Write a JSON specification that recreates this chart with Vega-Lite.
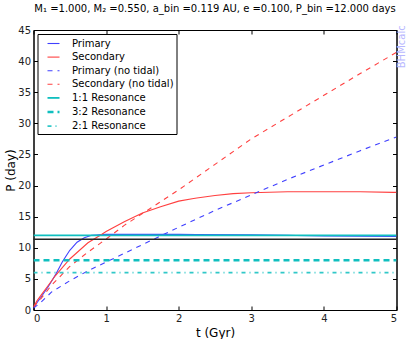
{
  "$schema": "https://vega.github.io/schema/vega-lite/v6.json",
  "width": 363,
  "height": 280,
  "autosize": {"type": "none"},
  "padding": {"left": 33.5, "top": 30, "right": 10.5, "bottom": 29},
  "background": "white",
  "title": {"text": "M₁ =1.000, M₂ =0.550, a_bin =0.119 AU, e =0.100, P_bin =12.000 days", "fontSize": 10, "font": "DejaVu Sans", "fontWeight": "normal", "color": "black", "offset": 11, "anchor": "middle"},
  "config": {
    "view": {"stroke": "black", "strokeWidth": 1},
    "font": "DejaVu Sans",
    "axis": {"labelFont": "DejaVu Sans", "labelFontSize": 10, "labelColor": "#222", "titleFont": "DejaVu Sans", "titleFontSize": 12, "titleFontWeight": "normal", "titleColor": "black", "domainColor": "black", "tickColor": "black", "grid": false, "tickSize": -4, "labelPadding": 7}
  },
  "datasets": {
    "curves": [
      {"series": "Primary", "t": 0, "P": 0.3},
      {"series": "Primary", "t": 0.05, "P": 1.2},
      {"series": "Primary", "t": 0.1, "P": 2.0},
      {"series": "Primary", "t": 0.2, "P": 3.7},
      {"series": "Primary", "t": 0.3, "P": 5.6},
      {"series": "Primary", "t": 0.4, "P": 7.8},
      {"series": "Primary", "t": 0.5, "P": 9.6},
      {"series": "Primary", "t": 0.6, "P": 10.9},
      {"series": "Primary", "t": 0.7, "P": 11.6},
      {"series": "Primary", "t": 0.8, "P": 12.0},
      {"series": "Primary", "t": 0.9, "P": 12.1},
      {"series": "Primary", "t": 1.0, "P": 12.15},
      {"series": "Primary", "t": 2.0, "P": 12.15},
      {"series": "Primary", "t": 3.0, "P": 12.1},
      {"series": "Primary", "t": 3.5, "P": 12.0},
      {"series": "Primary", "t": 4.0, "P": 11.9},
      {"series": "Primary", "t": 5.0, "P": 11.8},
      {"series": "Secondary", "t": 0, "P": 0.5},
      {"series": "Secondary", "t": 0.05, "P": 1.5},
      {"series": "Secondary", "t": 0.1, "P": 2.3},
      {"series": "Secondary", "t": 0.2, "P": 3.9},
      {"series": "Secondary", "t": 0.3, "P": 5.5},
      {"series": "Secondary", "t": 0.5, "P": 8.2},
      {"series": "Secondary", "t": 0.75, "P": 10.8},
      {"series": "Secondary", "t": 1.0, "P": 12.6},
      {"series": "Secondary", "t": 1.25, "P": 14.2},
      {"series": "Secondary", "t": 1.5, "P": 15.6},
      {"series": "Secondary", "t": 1.75, "P": 16.6},
      {"series": "Secondary", "t": 2.0, "P": 17.5},
      {"series": "Secondary", "t": 2.25, "P": 18.0},
      {"series": "Secondary", "t": 2.5, "P": 18.4},
      {"series": "Secondary", "t": 2.75, "P": 18.7},
      {"series": "Secondary", "t": 3.0, "P": 18.85},
      {"series": "Secondary", "t": 3.5, "P": 19.0},
      {"series": "Secondary", "t": 4.0, "P": 19.0},
      {"series": "Secondary", "t": 4.5, "P": 19.0},
      {"series": "Secondary", "t": 5.0, "P": 18.9},
      {"series": "Primary (no tidal)", "t": 0, "P": 0.3},
      {"series": "Primary (no tidal)", "t": 0.1, "P": 1.2},
      {"series": "Primary (no tidal)", "t": 0.25, "P": 2.9},
      {"series": "Primary (no tidal)", "t": 0.5, "P": 4.7},
      {"series": "Primary (no tidal)", "t": 0.75, "P": 6.3},
      {"series": "Primary (no tidal)", "t": 1.0, "P": 7.7},
      {"series": "Primary (no tidal)", "t": 1.25, "P": 9.1},
      {"series": "Primary (no tidal)", "t": 1.5, "P": 10.5},
      {"series": "Primary (no tidal)", "t": 1.75, "P": 11.9},
      {"series": "Primary (no tidal)", "t": 2.0, "P": 13.3},
      {"series": "Primary (no tidal)", "t": 2.5, "P": 16.0},
      {"series": "Primary (no tidal)", "t": 3.0, "P": 18.5},
      {"series": "Primary (no tidal)", "t": 3.5, "P": 21.0},
      {"series": "Primary (no tidal)", "t": 4.0, "P": 23.3},
      {"series": "Primary (no tidal)", "t": 4.5, "P": 25.6},
      {"series": "Primary (no tidal)", "t": 5.0, "P": 27.8},
      {"series": "Secondary (no tidal)", "t": 0, "P": 0.5},
      {"series": "Secondary (no tidal)", "t": 0.1, "P": 1.8},
      {"series": "Secondary (no tidal)", "t": 0.25, "P": 4.0},
      {"series": "Secondary (no tidal)", "t": 0.5, "P": 7.0},
      {"series": "Secondary (no tidal)", "t": 0.75, "P": 9.3},
      {"series": "Secondary (no tidal)", "t": 1.0, "P": 11.4},
      {"series": "Secondary (no tidal)", "t": 1.25, "P": 13.6},
      {"series": "Secondary (no tidal)", "t": 1.5, "P": 15.5},
      {"series": "Secondary (no tidal)", "t": 1.75, "P": 17.4},
      {"series": "Secondary (no tidal)", "t": 2.0, "P": 19.3},
      {"series": "Secondary (no tidal)", "t": 2.5, "P": 23.4},
      {"series": "Secondary (no tidal)", "t": 3.0, "P": 27.5},
      {"series": "Secondary (no tidal)", "t": 3.5, "P": 31.0},
      {"series": "Secondary (no tidal)", "t": 4.0, "P": 34.5},
      {"series": "Secondary (no tidal)", "t": 4.5, "P": 38.0},
      {"series": "Secondary (no tidal)", "t": 5.0, "P": 41.4},
      {"series": "1:1 Resonance", "t": 0, "P": 12.0},
      {"series": "1:1 Resonance", "t": 5, "P": 12.0},
      {"series": "3:2 Resonance", "t": 0, "P": 8.0},
      {"series": "3:2 Resonance", "t": 5, "P": 8.0},
      {"series": "2:1 Resonance", "t": 0, "P": 6.0},
      {"series": "2:1 Resonance", "t": 5, "P": 6.0}
    ],
    "binary": [
      {"t": 0, "P": 11.36},
      {"t": 5, "P": 11.36}
    ],
    "mark": [
      {"label": "BHMcalc", "t": 5, "P": 42.3}
    ]
  },
  "layer": [
    {
      "data": {"name": "curves"},
      "mark": {"type": "line", "clip": true},
      "encoding": {
        "x": {"field": "t", "type": "quantitative", "scale": {"domain": [0, 5], "nice": false}, "axis": {"title": "t (Gyr)", "values": [0, 1, 2, 3, 4, 5], "format": "d", "titlePadding": 4}},
        "y": {"field": "P", "type": "quantitative", "scale": {"domain": [0, 45], "nice": false}, "axis": {"title": "P (day)", "values": [0, 5, 10, 15, 20, 25, 30, 35, 40, 45], "format": "d", "titlePadding": 0}},
        "color": {"field": "series", "type": "nominal", "sort": null,
          "scale": {"domain": ["Primary", "Secondary", "Primary (no tidal)", "Secondary (no tidal)", "1:1 Resonance", "3:2 Resonance", "2:1 Resonance"],
                    "range": ["#4040ff", "#ff4040", "#4040ff", "#ff4040", "#10bfbf", "#10bfbf", "#30c8c8"]},
          "legend": {"title": null, "orient": "top-left", "offset": 4, "strokeColor": "black", "fillColor": "white", "padding": 2.5, "labelFontSize": 10, "labelFont": "DejaVu Sans", "labelColor": "black", "rowPadding": 1.6, "symbolSize": 144, "symbolType": "stroke", "symbolOffset": 6, "labelOffset": 11, "cornerRadius": 0}},
        "strokeDash": {"field": "series", "type": "nominal", "sort": null,
          "scale": {"domain": ["Primary", "Secondary", "Primary (no tidal)", "Secondary (no tidal)", "1:1 Resonance", "3:2 Resonance", "2:1 Resonance"],
                    "range": [[100, 0], [100, 0], [5, 5], [5, 5], [100, 0], [6, 4], [4, 4, 1, 4]]},
          "legend": {"title": null}},
        "strokeWidth": {"field": "series", "type": "ordinal", "sort": null,
          "scale": {"type": "ordinal", "domain": ["Primary", "Secondary", "Primary (no tidal)", "Secondary (no tidal)", "1:1 Resonance", "3:2 Resonance", "2:1 Resonance"],
                    "range": [1.1, 1.1, 1.1, 1.1, 1.8, 2.6, 1.6]},
          "legend": {"title": null}}
      }
    },
    {
      "data": {"name": "binary"},
      "mark": {"type": "line", "color": "#222222", "strokeWidth": 1.5},
      "encoding": {
        "x": {"field": "t", "type": "quantitative", "axis": {"orient": "top", "labels": false, "title": null, "values": [0, 1, 2, 3, 4, 5]}},
        "y": {"field": "P", "type": "quantitative", "axis": {"orient": "right", "labels": false, "title": null, "values": [0, 5, 10, 15, 20, 25, 30, 35, 40, 45]}}
      }
    },
    {
      "data": {"name": "mark"},
      "mark": {"type": "text", "angle": 270, "color": "#b8b8ff", "fontSize": 10, "font": "DejaVu Sans", "dx": 0, "dy": 5, "align": "center", "baseline": "middle", "clip": false},
      "encoding": {
        "x": {"field": "t", "type": "quantitative", "axis": null},
        "y": {"field": "P", "type": "quantitative", "axis": null},
        "text": {"field": "label"}
      }
    }
  ],
  "resolve": {"axis": {"x": "independent", "y": "independent"}}
}
